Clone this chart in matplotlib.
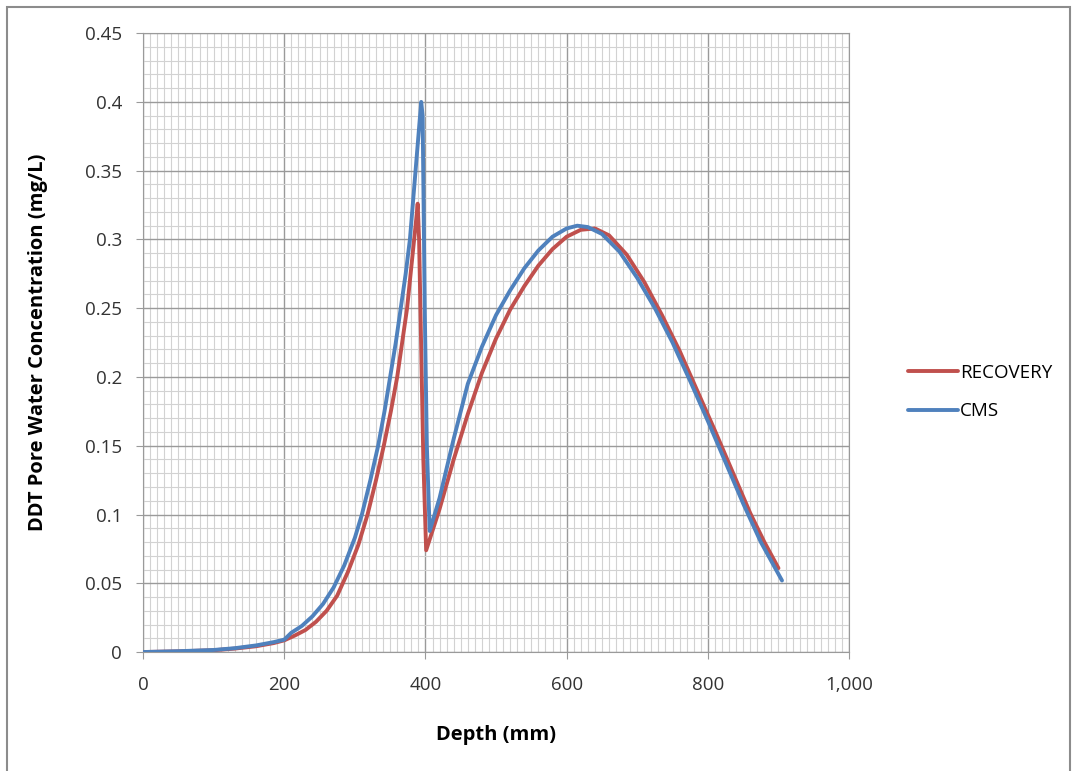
import matplotlib.pyplot as plt
from matplotlib.ticker import MultipleLocator, FuncFormatter
from matplotlib.patches import Rectangle

# Depth (mm) / concentration (mg/L) read along each profile
recovery_depth = [0, 50, 100, 130, 160, 185, 200, 215, 230, 245, 260, 275, 290, 305, 318,
                  330, 341, 351, 360, 367, 374, 379, 384, 387, 389, 391, 394, 397, 401,
                  420, 440, 460, 480, 500, 520, 540, 560, 580, 600, 620, 640, 660, 685,
                  710, 735, 760, 785, 810, 835, 860, 880, 900]
recovery_conc = [0, 0.0005, 0.0013, 0.0025, 0.0042, 0.0065, 0.0085, 0.012, 0.016, 0.022,
                 0.03, 0.041, 0.058, 0.078, 0.1, 0.125, 0.15, 0.175, 0.2, 0.225, 0.25,
                 0.275, 0.3, 0.315, 0.326, 0.3, 0.22, 0.14, 0.074, 0.104, 0.14, 0.173,
                 0.203, 0.228, 0.249, 0.266, 0.281, 0.293, 0.302, 0.307, 0.308, 0.303,
                 0.289, 0.269, 0.245, 0.219, 0.19, 0.161, 0.131, 0.101, 0.08, 0.061]

cms_depth = [0, 50, 100, 130, 160, 185, 200, 210, 225, 240, 255, 270, 285, 300, 310, 322,
             333, 342, 350, 358, 365, 372, 378, 382, 386, 390, 394, 396, 399, 402, 406,
             420, 440, 460, 480, 500, 520, 540, 560, 580, 600, 615, 630, 650, 675, 700,
             725, 750, 775, 800, 825, 850, 875, 905]
cms_conc = [0, 0.0006, 0.0015, 0.0028, 0.0048, 0.0072, 0.009, 0.014, 0.019, 0.026, 0.035,
            0.047, 0.063, 0.083, 0.1, 0.125, 0.15, 0.175, 0.2, 0.225, 0.25, 0.275, 0.3,
            0.325, 0.35, 0.375, 0.4, 0.39, 0.25, 0.15, 0.088, 0.112, 0.155, 0.195, 0.222,
            0.245, 0.263, 0.279, 0.292, 0.302, 0.308, 0.31, 0.309, 0.304, 0.291, 0.272,
            0.25, 0.225, 0.197, 0.168, 0.138, 0.108, 0.08, 0.052]

plt.rcParams['font.family'] = ['Open Sans', 'DejaVu Sans']

fig = plt.figure(figsize=(10.73, 7.71), dpi=100)
ax = fig.add_axes([0.1333, 0.1543, 0.6580, 0.8027])

ax.plot(recovery_depth, recovery_conc, color='#C0504D', lw=2.8, label='RECOVERY',
        solid_joinstyle='round', solid_capstyle='round', zorder=3)
ax.plot(cms_depth, cms_conc, color='#4F81BD', lw=2.8, label='CMS',
        solid_joinstyle='round', solid_capstyle='round', zorder=4)

ax.set_xlim(0, 1000)
ax.set_ylim(0, 0.45)
ax.xaxis.set_major_locator(MultipleLocator(200))
ax.xaxis.set_minor_locator(MultipleLocator(10))
ax.yaxis.set_major_locator(MultipleLocator(0.05))
ax.yaxis.set_minor_locator(MultipleLocator(0.01))
ax.xaxis.set_major_formatter(FuncFormatter(lambda v, p: f"{int(round(v)):,}"))
ax.yaxis.set_major_formatter(FuncFormatter(lambda v, p: f"{round(v, 2):g}"))

ax.grid(which='major', color='#9a9a9a', lw=1.0)
ax.grid(which='minor', color='#d2d2d2', lw=0.8)
ax.set_axisbelow(True)
for s in ax.spines.values():
    s.set_color('#9a9a9a')
ax.tick_params(which='major', length=5, color='#9a9a9a', labelsize=13.5,
               labelcolor='#333333')
ax.tick_params(axis='x', pad=12)
ax.tick_params(axis='y', pad=10)
ax.tick_params(which='minor', length=0)

ax.set_xlabel('Depth (mm)', fontsize=14.5, fontweight='bold')
ax.set_ylabel('DDT Pore Water Concentration (mg/L)', fontsize=14.5, fontweight='bold')
ax.xaxis.set_label_coords(0.5, -0.118)
ax.yaxis.set_label_coords(-0.134, 0.5)

fig.legend(loc='center left', bbox_to_anchor=(908 / 1073, 1 - 392 / 771), frameon=False,
           fontsize=13.5, handlelength=2.67, handletextpad=0.1, labelspacing=1.1,
           borderpad=0, borderaxespad=0)

# outer chart frame
fig.patches.append(Rectangle((7 / 1073, -0.05), 1063 / 1073, 1.05 - 7 / 771,
                             transform=fig.transFigure, fill=False,
                             edgecolor='#8c8c8c', lw=1.5))

fig.savefig('out.png', dpi=100)
